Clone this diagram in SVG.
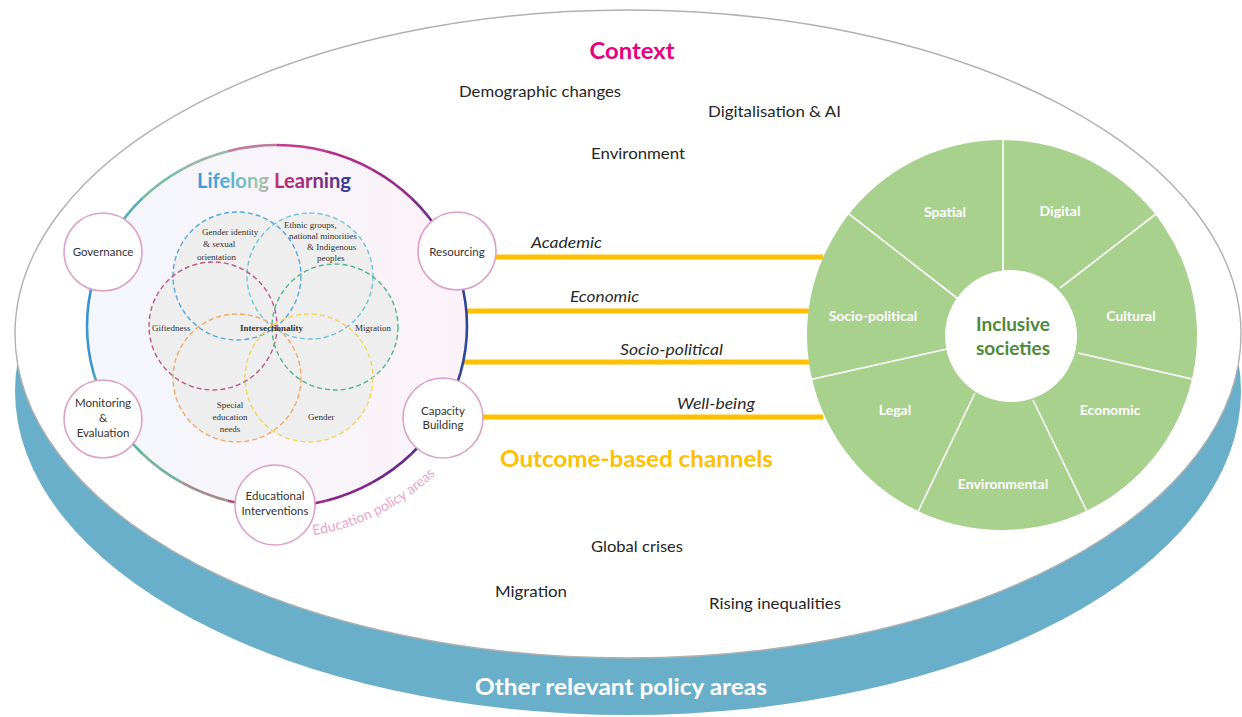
<svg xmlns="http://www.w3.org/2000/svg" width="1242" height="717" viewBox="0 0 1242 717">
<defs>
<style>
.sans{font-family:Lato,"Liberation Sans","DejaVu Sans",sans-serif}
.ctx{font-size:16px;fill:#262626}
.ch{font-size:16px;font-style:italic;fill:#2a2a2a}
.orange{stroke:#ffc000;stroke-width:5;fill:none}
.node circle{fill:#fff;stroke:#dba2c6;stroke-width:1.6}
.nl{font-size:11.5px;fill:#333;text-anchor:middle}
.vt{font-family:"Liberation Serif","Times New Roman",serif;font-size:9px;fill:#333}
.vc{fill:none;stroke-width:1.4;stroke-dasharray:5 3}
.vf{fill:#eeeeee;stroke:none}
.div{stroke:#fff;stroke-width:1.6;fill:none}
.gl{font-size:14px;font-weight:bold;fill:#fff;text-anchor:middle}
.arc{fill:none;stroke-width:2.6}
</style>
<linearGradient id="llFill" x1="0" y1="0" x2="1" y2="0">
<stop offset="0" stop-color="#f3f7fc"/>
<stop offset="1" stop-color="#fbf2f8"/>
</linearGradient>
<linearGradient id="llText" gradientUnits="userSpaceOnUse" x1="197" y1="0" x2="351" y2="0">
<stop offset="0" stop-color="#3d98d8"/>
<stop offset="0.2" stop-color="#58acd2"/>
<stop offset="0.4" stop-color="#9ccaa8"/>
<stop offset="0.47" stop-color="#b8a8a8"/>
<stop offset="0.52" stop-color="#c02e6e"/>
<stop offset="0.7" stop-color="#a42a7e"/>
<stop offset="0.86" stop-color="#6a3288"/>
<stop offset="1" stop-color="#2e4590"/>
</linearGradient>
<clipPath id="greenClip"><circle cx="1002" cy="335" r="195"/></clipPath>
<path id="epaPath" d="M 300.4,537 A 222 212 0 0 0 469,432"/>
</defs>

<g id="policy-areas-disc">
<ellipse cx="628" cy="391" rx="613" ry="324" fill="#6aafca"/>
<ellipse cx="628" cy="334" rx="613" ry="324" fill="#ffffff" stroke="#b0b0b0" stroke-width="1.4"/>
<text class="sans" x="621" y="695" text-anchor="middle" font-size="23" font-weight="bold" fill="#ffffff" textLength="292" lengthAdjust="spacingAndGlyphs">Other relevant policy areas</text>
</g>

<g id="context">
<text class="sans" x="632" y="59" text-anchor="middle" font-size="23" font-weight="bold" fill="#e6007e" textLength="85" lengthAdjust="spacingAndGlyphs">Context</text>
<text class="sans ctx" x="459" y="97" textLength="162" lengthAdjust="spacingAndGlyphs">Demographic changes</text>
<text class="sans ctx" x="708" y="117" textLength="133" lengthAdjust="spacingAndGlyphs">Digitalisation &amp; AI</text>
<text class="sans ctx" x="591" y="159" textLength="94" lengthAdjust="spacingAndGlyphs">Environment</text>
<text class="sans ctx" x="591" y="552" textLength="92" lengthAdjust="spacingAndGlyphs">Global crises</text>
<text class="sans ctx" x="495" y="597" textLength="72" lengthAdjust="spacingAndGlyphs">Migration</text>
<text class="sans ctx" x="709" y="609" textLength="132" lengthAdjust="spacingAndGlyphs">Rising inequalities</text>
</g>

<g id="connectors">
<line class="orange" x1="480" y1="257" x2="823" y2="257"/>
<line class="orange" x1="462" y1="311" x2="810" y2="311"/>
<line class="orange" x1="457" y1="362" x2="810" y2="362"/>
<line class="orange" x1="470" y1="417" x2="823" y2="417"/>
<text class="sans ch" x="531" y="248" textLength="71" lengthAdjust="spacingAndGlyphs">Academic</text>
<text class="sans ch" x="570" y="302" textLength="69" lengthAdjust="spacingAndGlyphs">Economic</text>
<text class="sans ch" x="620" y="355" textLength="103" lengthAdjust="spacingAndGlyphs">Socio-political</text>
<text class="sans ch" x="677" y="409" textLength="78" lengthAdjust="spacingAndGlyphs">Well-being</text>
<text class="sans" x="500" y="467" font-size="23" font-weight="bold" fill="#ffc000" textLength="273" lengthAdjust="spacingAndGlyphs">Outcome-based channels</text>
</g>

<g id="lifelong-learning">
<ellipse cx="277" cy="326" rx="190" ry="181" fill="url(#llFill)"/>
<g id="ll-border">
<path class="arc" stroke="#2c4896" d="M467,326 A190 181 0 0 1 460.5,372.8"/>
<path class="arc" stroke="#34408f" d="M460.5,372.8 A190 181 0 0 1 441.5,416.5"/>
<path class="arc" stroke="#4a358c" d="M441.5,416.5 A190 181 0 0 1 411.3,454"/>
<path class="arc" stroke="#6a2a88" d="M411.3,454 A190 181 0 0 1 372,482.7"/>
<path class="arc" stroke="#86228a" d="M372,482.7 A190 181 0 0 1 326.2,500.8"/>
<path class="arc" stroke="#9a2a82" d="M326.2,500.8 A190 181 0 0 1 277,507"/>
<path class="arc" stroke="#a8507e" d="M277,507 A190 181 0 0 1 227.8,500.8"/>
<path class="arc" stroke="#a48a88" d="M227.8,500.8 A190 181 0 0 1 182,482.7"/>
<path class="arc" stroke="#78b49a" d="M182,482.7 A190 181 0 0 1 142.7,454"/>
<path class="arc" stroke="#5ab4a0" d="M142.7,454 A190 181 0 0 1 112.5,416.5"/>
<path class="arc" stroke="#48a6b8" d="M112.5,416.5 A190 181 0 0 1 93.5,372.8"/>
<path class="arc" stroke="#3c96d0" d="M93.5,372.8 A190 181 0 0 1 87,326"/>
<path class="arc" stroke="#3a92d2" d="M87,326 A190 181 0 0 1 93.5,279.2"/>
<path class="arc" stroke="#3e9cd0" d="M93.5,279.2 A190 181 0 0 1 112.5,235.5"/>
<path class="arc" stroke="#58b0b4" d="M112.5,235.5 A190 181 0 0 1 142.7,198"/>
<path class="arc" stroke="#78bea0" d="M142.7,198 A190 181 0 0 1 182,169.3"/>
<path class="arc" stroke="#98b8a8" d="M182,169.3 A190 181 0 0 1 227.8,151.2"/>
<path class="arc" stroke="#c07ca0" d="M227.8,151.2 A190 181 0 0 1 277,145"/>
<path class="arc" stroke="#c03c8c" d="M277,145 A190 181 0 0 1 326.2,151.2"/>
<path class="arc" stroke="#b02c88" d="M326.2,151.2 A190 181 0 0 1 372,169.3"/>
<path class="arc" stroke="#982a88" d="M372,169.3 A190 181 0 0 1 411.3,198"/>
<path class="arc" stroke="#783088" d="M411.3,198 A190 181 0 0 1 441.5,235.5"/>
<path class="arc" stroke="#50388e" d="M441.5,235.5 A190 181 0 0 1 460.5,279.2"/>
<path class="arc" stroke="#304494" d="M460.5,279.2 A190 181 0 0 1 467,326"/>
</g>
<text class="sans" x="197" y="188" font-size="20" font-weight="bold" fill="url(#llText)" textLength="154" lengthAdjust="spacingAndGlyphs">Lifelong Learning</text>
<g id="venn">
<circle class="vf" cx="237" cy="276" r="64"/>
<circle class="vf" cx="310" cy="276" r="63"/>
<circle class="vf" cx="213" cy="326" r="64"/>
<circle class="vf" cx="335" cy="327" r="63"/>
<circle class="vf" cx="237" cy="378" r="64"/>
<circle class="vf" cx="309" cy="378" r="64"/>
<circle class="vc" stroke="#5aa6da" cx="237" cy="276" r="64"/>
<circle class="vc" stroke="#72c4d8" cx="310" cy="276" r="63"/>
<circle class="vc" stroke="#b85a88" cx="213" cy="326" r="64"/>
<circle class="vc" stroke="#52b48e" cx="335" cy="327" r="63"/>
<circle class="vc" stroke="#f0a868" cx="237" cy="378" r="64"/>
<circle class="vc" stroke="#f2d45a" cx="309" cy="378" r="64"/>
<text class="vt" x="202" y="235">Gender identity</text>
<text class="vt" x="203" y="247">&amp; sexual</text>
<text class="vt" x="197" y="260">orientation</text>
<text class="vt" x="284" y="228">Ethnic groups,</text>
<text class="vt" x="289" y="239">national minorities</text>
<text class="vt" x="307" y="250">&amp; Indigenous</text>
<text class="vt" x="317" y="261">peoples</text>
<text class="vt" x="152" y="331">Giftedness</text>
<text class="vt" x="240" y="331" font-size="10" font-weight="bold" fill="#222">Intersectionality</text>
<text class="vt" x="355" y="331">Migration</text>
<text class="vt" x="230" y="408" text-anchor="middle">Special</text>
<text class="vt" x="230" y="420" text-anchor="middle">education</text>
<text class="vt" x="230" y="432" text-anchor="middle">needs</text>
<text class="vt" x="308" y="420">Gender</text>
</g>
<text class="sans" font-size="14.2" fill="#eaa6cc"><textPath href="#epaPath" startOffset="13">Education policy areas</textPath></text>
</g>

<g id="node-governance" class="node">
<circle cx="103" cy="252" r="39"/>
<text class="sans nl" x="103" y="256">Governance</text>
</g>
<g id="node-monitoring" class="node">
<circle cx="103" cy="419" r="39"/>
<text class="sans nl" x="103" y="407">Monitoring</text>
<text class="sans nl" x="103" y="422">&amp;</text>
<text class="sans nl" x="103" y="437">Evaluation</text>
</g>
<g id="node-educational" class="node">
<circle cx="275" cy="505" r="40"/>
<text class="sans nl" x="275" y="500">Educational</text>
<text class="sans nl" x="275" y="515">Interventions</text>
</g>
<g id="node-capacity" class="node">
<circle cx="443" cy="418" r="40"/>
<text class="sans nl" x="443" y="415">Capacity</text>
<text class="sans nl" x="443" y="429">Building</text>
</g>
<g id="node-resourcing" class="node">
<circle cx="457" cy="251" r="39"/>
<text class="sans nl" x="457" y="256">Resourcing</text>
</g>

<g id="inclusive-societies">
<circle cx="1002" cy="335" r="195" fill="#a9d18e"/>
<g clip-path="url(#greenClip)">
<line class="div" x1="1003" y1="130" x2="1003" y2="272"/>
<line class="div" x1="1165" y1="207" x2="1060" y2="288"/>
<line class="div" x1="1078" y1="353" x2="1205" y2="382"/>
<line class="div" x1="1033" y1="400" x2="1092" y2="522"/>
<line class="div" x1="975" y1="393" x2="914" y2="520"/>
<line class="div" x1="947" y1="349" x2="800" y2="382"/>
<line class="div" x1="957" y1="298" x2="840" y2="207"/>
</g>
<circle cx="1011" cy="336" r="66" fill="#ffffff"/>
<text class="sans gl" x="945" y="217">Spatial</text>
<text class="sans gl" x="1060" y="216">Digital</text>
<text class="sans gl" x="1131" y="321">Cultural</text>
<text class="sans gl" x="873" y="321">Socio-political</text>
<text class="sans gl" x="1110" y="415">Economic</text>
<text class="sans gl" x="895" y="415">Legal</text>
<text class="sans gl" x="1003" y="489">Environmental</text>
<text class="sans" x="1013" y="331" text-anchor="middle" font-size="19" font-weight="bold" fill="#4e8a38">Inclusive</text>
<text class="sans" x="1013" y="355" text-anchor="middle" font-size="19" font-weight="bold" fill="#4e8a38">societies</text>
</g>
</svg>
